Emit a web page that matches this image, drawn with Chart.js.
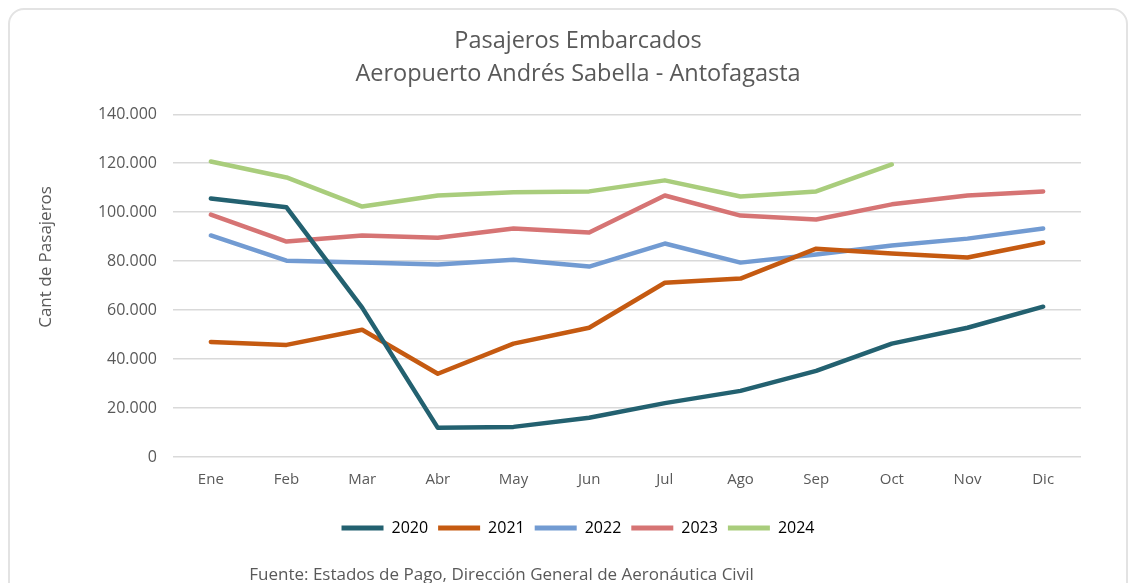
<!DOCTYPE html>
<html>
<head>
<meta charset="utf-8">
<script src="https://cdn.jsdelivr.net/npm/chart.js@4/dist/chart.umd.min.js"></script>
<style>
  html,body{margin:0;padding:0;background:#fff;overflow:hidden}
  #wrap{position:relative;width:1133px;height:583px}
  #card{position:absolute;left:8px;top:8px;width:1120px;height:600px;border:2px solid #e3e3e3;border-radius:16px;box-sizing:border-box}
  #cv{position:absolute;left:0;top:0}
  #src{position:absolute;left:0;width:1003px;top:562px;text-align:center;font:17px "Open Sans",sans-serif;color:#595959;white-space:nowrap}
</style>
</head>
<body>
<div id="wrap">
  <div id="card"></div>
  <canvas id="cv" width="1133" height="583"></canvas>
  <div id="src">Fuente: Estados de Pago, Dirección General de Aeronáutica Civil</div>
</div>
<script>
/* ===== 資料 ===== */
const MESES = ['Ene','Feb','Mar','Abr','May','Jun','Jul','Ago','Sep','Oct','Nov','Dic'];
const Y2020 = [105600,102000,61000,11900,12300,16000,22000,27000,35200,46300,52800,61400];
const Y2021 = [47000,45800,52000,34000,46300,52800,71200,72900,85100,83100,81500,87600];
const Y2022 = [90500,80200,79400,78600,80600,77800,87200,79400,82700,86400,89200,93300];
const Y2023 = [99000,88000,90500,89600,93300,91700,106800,98600,97000,103200,106800,108500];
const Y2024 = [120700,114200,102300,106800,108100,108500,113000,106400,108500,119500];
const SERIES = [['2020',Y2020,'#236170'],['2021',Y2021,'#C55A11'],['2022',Y2022,'#729BD2'],['2023',Y2023,'#D67474'],['2024',Y2024,'#A9CD7C']];

const TXT = '#595959', FONT = '"Open Sans", sans-serif';
const fmt = v => String(v).replace(/\B(?=(\d{3})+(?!\d))/g,'.');
// 標題往上移：底部補空白
const YTITLE = '\u00A0'.repeat(13) + 'Cant de Pasajeros';
const PADL = 75;   // 讓標題與圖例置中位置對上

const mk = ([label,data,c]) => ({label,data,borderColor:c,backgroundColor:c,borderWidth:4.5,
  pointRadius:0,tension:0,borderCapStyle:'round',borderJoinStyle:'round'});

new Chart(document.getElementById('cv'),{
  type:'line',
  data:{labels:MESES, datasets:SERIES.map(mk)},
  options:{
    responsive:false, animation:false,
    layout:{padding:{left:PADL,right:52,top:25,bottom:37}},
    plugins:{
      title:{display:true,text:['Pasajeros Embarcados','Aeropuerto Andrés Sabella - Antofagasta'],
        color:TXT,font:{family:FONT,size:23.5,weight:'normal',lineHeight:1.41},padding:{top:0,bottom:23}},
      legend:{position:'bottom',
        labels:{color:TXT,font:{family:FONT,size:16},boxWidth:42,boxHeight:5,padding:10,
          generateLabels:ch=>ch.data.datasets.map((d,i)=>({text:d.label,fillStyle:d.borderColor,strokeStyle:d.borderColor,lineWidth:0,datasetIndex:i}))}},
      tooltip:{enabled:false}
    },
    scales:{
      x:{offset:true,grid:{display:false},border:{display:false},
        afterFit:s=>{s.height+=15},
        ticks:{color:TXT,font:{family:FONT,size:15},padding:6}},
      y:{min:0,max:140000,
        afterFit:s=>{s.width=173-PADL},
        grid:{color:'#d9d9d9',lineWidth:1.5,drawTicks:false},border:{display:false},
        ticks:{stepSize:20000,color:TXT,font:{family:FONT,size:16},padding:16,callback:v=>fmt(v)},
        title:{display:true,text:YTITLE,color:TXT,font:{family:FONT,size:17},padding:{top:36-PADL}}}
    }
  }
});
</script>
</body>
</html>
